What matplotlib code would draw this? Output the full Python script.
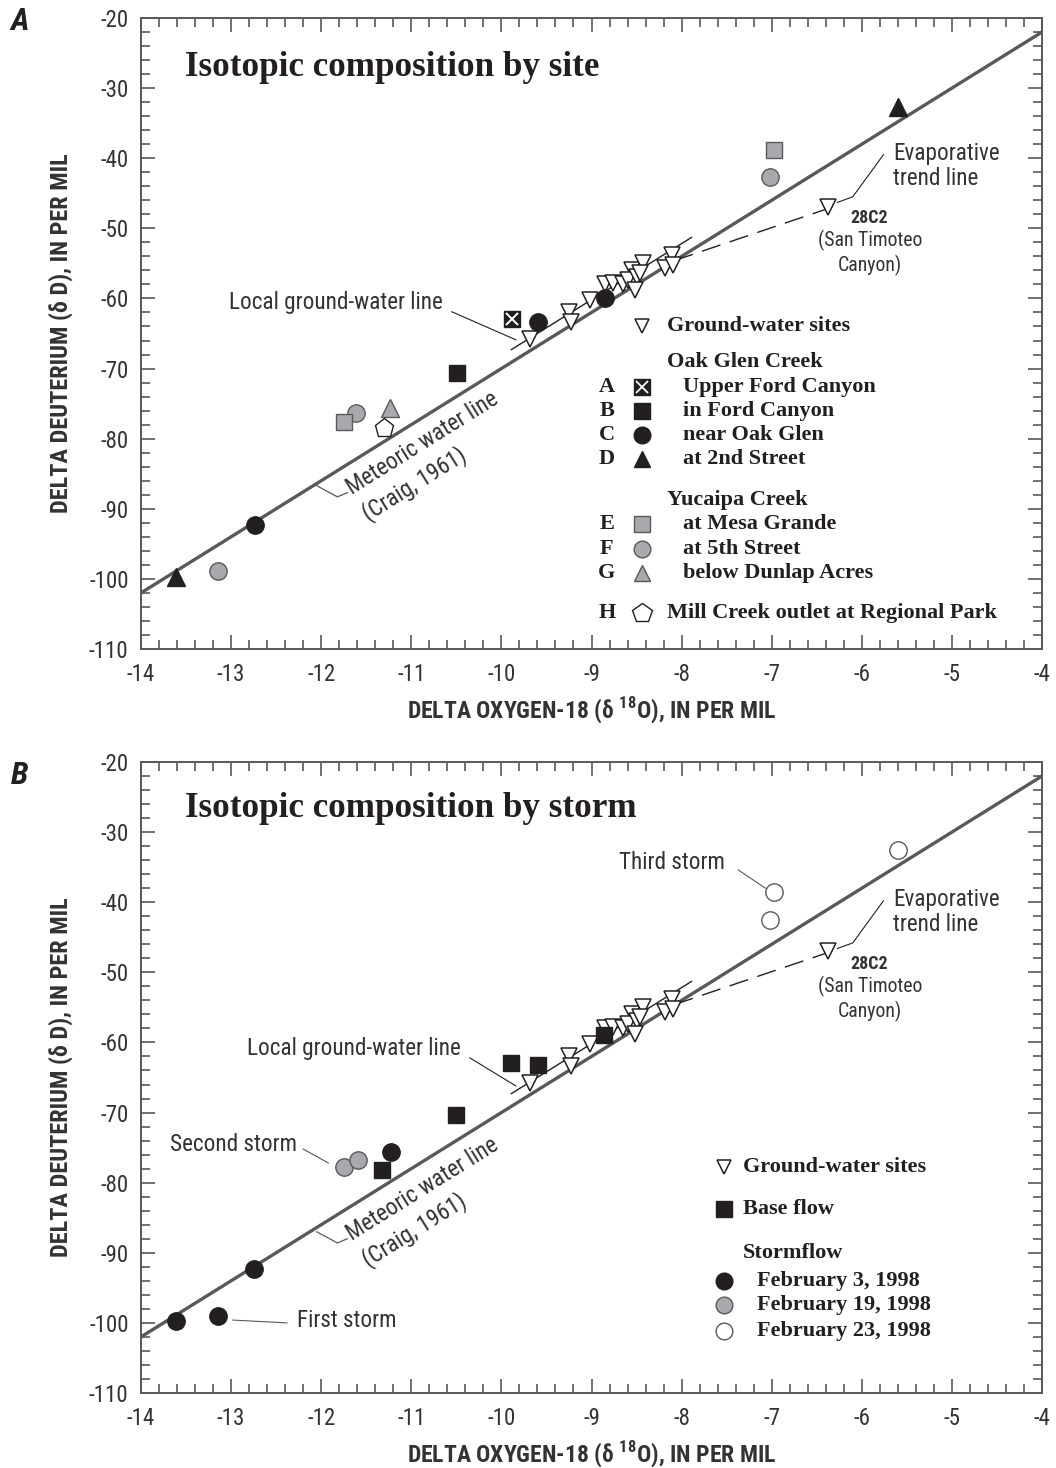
import numpy as np
import matplotlib
matplotlib.use('Agg')
import matplotlib.pyplot as plt
from matplotlib import font_manager

# ---- data -------------------------------------------------------------
# ground-water sites (same in both panels)
gw_o18 = [-9.68, -9.25, -9.23, -9.02, -8.85, -8.76, -8.65, -8.55, -8.59, -8.50,
          -8.52, -8.43, -8.46, -8.18, -8.11, -8.09]
gw_dd = [-65.8, -61.9, -63.4, -60.2, -58.0, -57.8, -58.0, -55.9, -57.3, -56.9,
         -58.8, -55.0, -56.4, -55.7, -53.8, -55.2]
c28_o18, c28_dd = -6.38, -47.0

# panel A, surface-water sites
siteA_o18, siteA_dd = [-9.88], [-62.9]                       # Upper Ford Canyon
siteB_o18, siteB_dd = [-10.49], [-70.6]                      # in Ford Canyon
siteC_o18, siteC_dd = [-12.73, -9.59, -8.85], [-92.3, -63.4, -59.9]   # near Oak Glen
siteD_o18, siteD_dd = [-13.61, -5.60], [-99.7, -32.7]        # at 2nd Street
siteE_o18, siteE_dd = [-11.75, -6.97], [-77.6, -38.8]        # at Mesa Grande
siteF_o18, siteF_dd = [-13.14, -11.61, -7.02], [-98.9, -76.3, -42.7]  # at 5th Street
siteG_o18, siteG_dd = [-11.24], [-75.6]                      # below Dunlap Acres
siteH_o18, siteH_dd = [-11.30], [-78.5]                      # Mill Creek outlet

# panel B, by storm
base_o18 = [-11.33, -10.50, -9.89, -9.59, -8.86]
base_dd = [-78.2, -70.4, -63.0, -63.2, -59.0]
feb3_o18 = [-13.61, -13.14, -12.75, -11.23]
feb3_dd = [-99.7, -99.0, -92.3, -75.6]
feb19_o18 = [-11.75, -11.59]
feb19_dd = [-77.8, -76.8]
feb23_o18 = [-6.97, -7.02, -5.60]
feb23_dd = [-38.6, -42.6, -32.6]

# lines
mwl_x = [-14, -4]                       # Craig (1961): dD = 8 d18O + 10
lgw_x, lgw_y = [-9.89, -7.89], [-67.3, -51.3]
evap_x, evap_y = [-8.08, c28_o18], [-54.6, -47.2]

# ---- style ------------------------------------------------------------
names = {f.name for f in font_manager.fontManager.ttflist}
NARROW = 'Liberation Sans'
for cand in ['Liberation Sans Narrow', 'Roboto Condensed', 'Open Sans Condensed',
             'DejaVu Sans Condensed']:
    if cand in names:
        NARROW = cand
        break
SERIF = 'Liberation Serif'
plt.rcParams['font.family'] = [NARROW, 'DejaVu Sans']
plt.rcParams['axes.unicode_minus'] = False
plt.rcParams['mathtext.fontset'] = 'custom'
plt.rcParams['mathtext.rm'] = NARROW
plt.rcParams['mathtext.bf'] = NARROW + ':bold'

BLACK = '#231f20'
GRAY = '#a7a9ac'
LINE = '#58595b'
TXT = '#333333'
LAB = 16.7

fig = plt.figure(figsize=(10.56, 14.68), dpi=100)
axA = fig.add_axes([141 / 1056, 1 - 649 / 1468, 901 / 1056, 631 / 1468])
axB = fig.add_axes([141 / 1056, 1 - 1393 / 1468, 901 / 1056, 631 / 1468])


def setup(ax):
    ax.set_xlim(-14, -4)
    ax.set_ylim(-110, -20)
    ax.set_xticks(np.arange(-14, -3, 1))
    ax.set_yticks(np.arange(-110, -19, 10))
    ax.set_xticks(np.arange(-14, -4, 0.2), minor=True)
    ax.set_yticks(np.arange(-110, -20, 2), minor=True)
    ax.tick_params(which='both', direction='in', top=True, right=True,
                   color=LINE, width=1.2)
    ax.tick_params(which='major', length=10, labelsize=16.5, labelcolor=TXT)
    ax.tick_params(which='minor', length=6.5)
    ax.tick_params(axis='x', pad=10)
    ax.tick_params(axis='y', pad=9)
    for s in ax.spines.values():
        s.set_color(LINE)
        s.set_linewidth(1.4)
    ax.set_xlabel('DELTA OXYGEN-18 (δ $^{\\mathbf{18}}$O), IN PER MIL',
                  fontsize=17, fontweight='bold', color=TXT)
    ax.set_ylabel('DELTA DEUTERIUM (δ D), IN PER MIL',
                  fontsize=17.5, fontweight='bold', color=TXT)
    ax.xaxis.set_label_coords(0.5, -0.074)
    ax.yaxis.set_label_coords(-0.076, 0.5)

    mx = np.array(mwl_x, dtype=float)
    ax.plot(mx, 8 * mx + 10, color=LINE, lw=2.4, zorder=2)
    ax.plot(lgw_x, lgw_y, color=BLACK, lw=1.0, zorder=2)
    ax.plot(evap_x, evap_y, color=BLACK, lw=1.0, dashes=(14, 7), zorder=2)
    ax.plot(gw_o18, gw_dd, 'v', ms=11, mfc='white', mec=BLACK, mew=1.1, zorder=4)
    ax.plot([c28_o18], [c28_dd], 'v', ms=11, mfc='white', mec=BLACK, mew=1.1, zorder=4)


def common_notes(ax, yoff, lgw_txt_x):
    lab = dict(fontsize=LAB, color=TXT)
    ax.text(-5.65, -41.1 + yoff, 'Evaporative\ntrend line', ha='left', va='center',
            linespacing=1.15, **lab)
    ax.plot([-5.76, -6.10, -6.27], [-39.5 + yoff, -45.5 + yoff, -46.3 + yoff],
            color=BLACK, lw=0.8)
    ax.text(-5.92, -48.5 + yoff, '28C2', ha='center', va='center', fontsize=13,
            fontweight='bold', color=TXT)
    ax.text(-5.91, -53.5 + yoff, '(San Timoteo\nCanyon)', ha='center', va='center',
            fontsize=14.2, color=TXT, linespacing=1.2)
    ax.text(lgw_txt_x, -60.6 + yoff, 'Local ground-water line', ha='right', va='center', **lab)
    ax.plot([lgw_txt_x + 0.1, -9.84], [-61.9 + yoff, -65.9 + yoff], color=BLACK, lw=0.8)
    ax.text(-11.66, -88.0 + yoff, 'Meteoric water line', rotation=32,
            rotation_mode='anchor', ha='left', va='baseline', **lab)
    ax.text(-11.48, -91.8 + yoff, '(Craig, 1961)', rotation=32,
            rotation_mode='anchor', ha='left', va='baseline', **lab)
    ax.plot([-12.05, -11.82, -11.71], [-86.7 + yoff, -88.3 + yoff, -87.7 + yoff],
            color=LINE, lw=0.9)


# ---- panel A ----------------------------------------------------------
setup(axA)
ms = 12.5
axA.plot(siteD_o18, siteD_dd, '^', ms=ms, mfc=BLACK, mec=BLACK, zorder=5)
axA.plot(siteF_o18, siteF_dd, 'o', ms=ms, mfc=GRAY, mec=LINE, mew=1, zorder=5)
axA.plot(siteC_o18, siteC_dd, 'o', ms=ms, mfc=BLACK, mec=BLACK, zorder=5)
axA.plot(siteE_o18, siteE_dd, 's', ms=11, mfc=GRAY, mec=LINE, mew=1, zorder=5)
axA.plot(siteG_o18, siteG_dd, '^', ms=ms, mfc=GRAY, mec=LINE, mew=1, zorder=5)
axA.plot(siteH_o18, siteH_dd, 'p', ms=14, mfc='white', mec=BLACK, mew=1, zorder=5)
axA.plot(siteB_o18, siteB_dd, 's', ms=11, mfc=BLACK, mec=BLACK, zorder=5)
axA.plot(siteA_o18, siteA_dd, 's', ms=11, mfc=BLACK, mec=BLACK, zorder=5)
axA.plot(siteA_o18, siteA_dd, 'x', ms=9, mec='white', mew=1.4, zorder=6)
axA.text(-13.51, -27.0, 'Isotopic composition by site', family=SERIF,
         fontsize=25.2, fontweight='bold', color=BLACK, va='center')
common_notes(axA, 0, -10.65)

# legend A (layout only)
serif = dict(family=SERIF, fontsize=16, fontweight='bold', color=BLACK, va='center')
lx_letter, lx_mark, lx_head, lx_item = -8.83, -8.44, -8.16, -7.98
axA.plot(lx_mark, -64.0, 'v', ms=10, mfc='white', mec=BLACK, mew=1.1)
axA.text(lx_head, -64.0, 'Ground-water sites', **serif)
axA.text(lx_head, -69.0, 'Oak Glen Creek', **serif)
axA.text(lx_head, -88.7, 'Yucaipa Creek', **serif)
leg_rows = [
    ('A', -72.7, 's', BLACK, BLACK, 'Upper Ford Canyon'),
    ('B', -76.1, 's', BLACK, BLACK, 'in Ford Canyon'),
    ('C', -79.5, 'o', BLACK, BLACK, 'near Oak Glen'),
    ('D', -82.9, '^', BLACK, BLACK, 'at 2nd Street'),
    ('E', -92.1, 's', GRAY, LINE, 'at Mesa Grande'),
    ('F', -95.7, 'o', GRAY, LINE, 'at 5th Street'),
    ('G', -99.1, '^', GRAY, LINE, 'below Dunlap Acres'),
]
for letter, yy, mk, fc, ec, label in leg_rows:
    axA.text(lx_letter, yy, letter, ha='center', **serif)
    axA.plot(lx_mark, yy, mk, ms=12 if mk != 's' else 11, mfc=fc, mec=ec, mew=1)
    axA.text(lx_item, yy, label, **serif)
axA.plot(lx_mark, -72.7, 'x', ms=8.5, mec='white', mew=1.3)
axA.text(lx_letter, -104.8, 'H', ha='center', **serif)
axA.plot(lx_mark, -104.8, 'p', ms=15, mfc='white', mec=BLACK, mew=1)
axA.text(lx_head, -104.8, 'Mill Creek outlet at Regional Park', **serif)

# ---- panel B ----------------------------------------------------------
setup(axB)
axB.plot(base_o18, base_dd, 's', ms=12, mfc=BLACK, mec=BLACK, zorder=5)
axB.plot(feb3_o18, feb3_dd, 'o', ms=ms, mfc=BLACK, mec=BLACK, zorder=5)
axB.plot(feb19_o18, feb19_dd, 'o', ms=ms, mfc=GRAY, mec=LINE, mew=1, zorder=5)
axB.plot(feb23_o18, feb23_dd, 'o', ms=ms, mfc='white', mec=LINE, mew=1, zorder=5)
axB.text(-13.51, -26.6, 'Isotopic composition by storm', family=SERIF,
         fontsize=25.2, fontweight='bold', color=BLACK, va='center')
common_notes(axB, -0.3, -10.45)
lab = dict(fontsize=LAB, color=TXT, va='center')
axB.text(-8.11, -34.4, 'Third storm', ha='center', **lab)
axB.plot([-7.37, -7.07], [-35.4, -38.0], color=LINE, lw=0.8)
axB.text(-12.27, -74.6, 'Second storm', ha='right', **lab)
axB.plot([-12.20, -11.92], [-75.2, -77.2], color=LINE, lw=0.8)
axB.text(-12.27, -99.7, 'First storm', ha='left', **lab)
axB.plot([-12.98, -12.38], [-99.6, -100.0], color=LINE, lw=0.8)

# legend B (layout only)
bx_mark, bx_text, bx_date = -7.53, -7.32, -7.16
axB.plot(bx_mark, -77.8, 'v', ms=10, mfc='white', mec=BLACK, mew=1.1)
axB.text(bx_text, -77.8, 'Ground-water sites', **serif)
axB.plot(bx_mark, -83.7, 's', ms=12, mfc=BLACK, mec=BLACK)
axB.text(bx_text, -83.7, 'Base flow', **serif)
axB.text(bx_text, -90.0, 'Stormflow', **serif)
for yy, fc, label in [(-94.0, BLACK, 'February 3, 1998'),
                      (-97.5, GRAY, 'February 19, 1998'),
                      (-101.1, 'white', 'February 23, 1998')]:
    axB.plot(bx_mark, yy, 'o', ms=12, mfc=fc, mec=LINE if fc != BLACK else BLACK, mew=1)
    axB.text(bx_date, yy, label, **serif)

# panel letters
fig.text(20 / 1056, 1 - 22 / 1468, 'A', fontsize=23, fontweight='bold',
         fontstyle='italic', ha='center', va='center', color=BLACK)
fig.text(20 / 1056, 1 - 776 / 1468, 'B', fontsize=23, fontweight='bold',
         fontstyle='italic', ha='center', va='center', color=BLACK)

fig.savefig('out.png', dpi=100)
